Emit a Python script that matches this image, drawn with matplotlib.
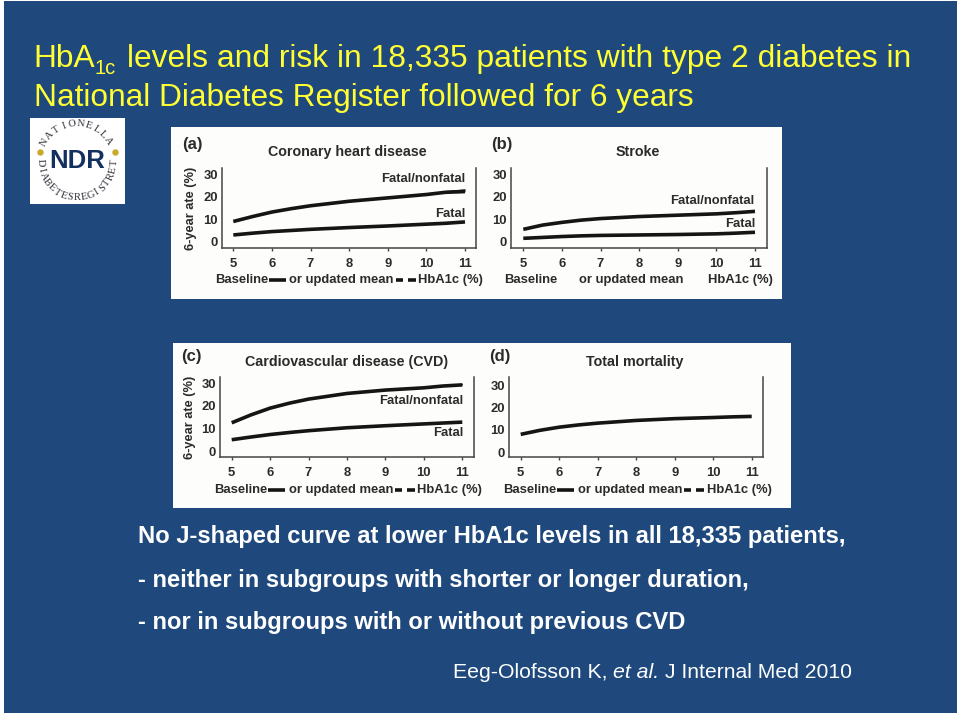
import numpy as np
import matplotlib
matplotlib.use("Agg")
import matplotlib.pyplot as plt
from matplotlib.patches import Rectangle

plt.rcParams['font.family'] = ['Liberation Sans', 'DejaVu Sans']

# Data
hba1c = [5, 5.5, 6, 6.5, 7, 8, 9, 10, 10.5, 11]
chd_all = [9, 11.2, 13.2, 14.7, 16, 18, 19.5, 21, 22, 22.3]
chd_all_hi = [9, 11.2, 13.2, 14.7, 16, 18, 19.5, 21.2, 22.8, 23.6]
chd_fatal = [3, 3.8, 4.5, 5, 5.5, 6.3, 7, 7.8, 8.2, 8.8]
stroke_all = [5.5, 7.4, 8.6, 9.6, 10.3, 11.2, 11.8, 12.4, 12.9, 13.5]
stroke_fatal = [1.5, 1.9, 2.3, 2.6, 2.8, 3, 3.2, 3.5, 3.8, 4.2]
cvd_all = [12.5, 16, 19, 21.2, 23, 25.5, 27, 28, 28.8, 29.3]
cvd_all_hi = [12.5, 16, 19, 21.2, 23, 25.5, 27, 28.2, 29.4, 30]
cvd_fatal = [5, 6.2, 7.3, 8.2, 9, 10.3, 11.2, 12, 12.4, 12.8]
mort_all = [8, 9.8, 11.2, 12.2, 13, 14.2, 15, 15.5, 15.8, 16]

x_ticks = [5, 6, 7, 8, 9, 10, 11]
y_ticks = [0, 10, 20, 30]

NAVY = '#1f497d'
INK = '#2b2b2b'
YELLOW = '#ffff33'
W, H = 960, 716

fig = plt.figure(figsize=(9.6, 7.16), dpi=100, facecolor='white')
bg = fig.add_axes([0, 0, 1, 1])
bg.set_xlim(0, W)
bg.set_ylim(H, 0)
bg.axis('off')

# slide and the two white picture strips
bg.add_patch(Rectangle((4, 1), 953, 712, fc=NAVY, ec='none'))
bg.add_patch(Rectangle((171, 127), 611, 172, fc='#fdfdfb', ec='none'))
bg.add_patch(Rectangle((173, 343), 618, 165, fc='#fdfdfb', ec='none'))

# heading
bg.text(33, 59, 'HbA', color=YELLOW, fontsize=22.8, va='center')
bg.text(95, 69, '1c', color=YELLOW, fontsize=14.5, va='center')
bg.text(127, 59, 'levels and risk in 18,335 patients with type 2 diabetes in',
        color=YELLOW, fontsize=22.85, va='center')
bg.text(34, 98, 'National Diabetes Register followed for 6 years',
        color=YELLOW, fontsize=22.8, va='center')

# body text
bg.text(138, 537, 'No J-shaped curve at lower HbA1c levels in all 18,335 patients,',
        color='white', fontsize=17.15, fontweight='bold', va='center')
bg.text(138, 580, '- neither in subgroups with shorter or longer duration,',
        color='white', fontsize=17.15, fontweight='bold', va='center')
bg.text(138, 623, '- nor in subgroups with or without previous CVD',
        color='white', fontsize=17.15, fontweight='bold', va='center')
bg.text(453, 672, 'Eeg-Olofsson K,', color='white', fontsize=15.3, va='center')
bg.text(613, 672, 'et al.', color='white', fontsize=15.3, style='italic', va='center')
bg.text(665, 672, 'J Internal Med 2010', color='white', fontsize=15.2, va='center')

# logo
bg.add_patch(Rectangle((30, 118), 95, 86, fc='white', ec='none'))
cx, cy = 77, 161
bg.text(cx, cy, 'NDR', color='#14305f', fontsize=18.5, fontweight='bold',
        ha='center', va='center')
bg.plot([40, 115], [152, 152], ls='none', marker='o', ms=3.6, color='#c9a92a')


def arc_text(s, r, a0, a1, top):
    for ch, a in zip(s, np.linspace(a0, a1, len(s))):
        t = np.radians(a)
        rot = a - 90 if top else a + 90
        bg.text(cx + r * np.cos(t), cy - r * np.sin(t), ch, fontsize=7.6,
                family=['Liberation Serif'], color='#30303a', rotation=rot,
                ha='center', va='center', rotation_mode='anchor')


arc_text('NATIONELLA', 37, 150, 32, True)
arc_text('DIABETESREGISTRET', 37, 183, 357, False)


def panel(box, x5, x11, y0, y30, series, title, title_x, title_y, letter, letter_x, letter_y,
          band=None):
    left, top, right, bottom = box
    ax = fig.add_axes([left / W, 1 - bottom / H, (right - left) / W, (bottom - top) / H])
    ax.patch.set_alpha(0)
    per_x = 6 / (x11 - x5)
    per_y = 30 / (y0 - y30)
    ax.set_xlim(5 + (left - x5) * per_x, 5 + (right - x5) * per_x)
    ax.set_ylim((y0 - bottom) * per_y, (y0 - top) * per_y)
    for values in series:
        ax.plot(hba1c, values, color='#151515', lw=2.6, solid_capstyle='butt')
    if band is not None:
        ax.fill_between(hba1c, series[0], band, color='#151515', lw=0)
    ax.spines['top'].set_visible(False)
    for name in ['left', 'bottom', 'right']:
        ax.spines[name].set_color('#444444')
        ax.spines[name].set_linewidth(1.1)
    ax.set_xticks(x_ticks)
    ax.set_yticks(y_ticks)
    ax.tick_params(axis='x', length=2.5, width=1, color='#444444', pad=5,
                   labelsize=9.4, labelcolor=INK)
    ax.tick_params(axis='y', length=0, pad=3, labelsize=9.4, labelcolor=INK)
    for lab in ax.get_xticklabels() + ax.get_yticklabels():
        lab.set_fontweight('bold')
    bg.text(title_x, title_y, title, fontsize=10.25, fontweight='bold', color=INK,
            ha='center', va='center')
    bg.text(letter_x, letter_y, letter, fontsize=12, fontweight='bold', color=INK,
            ha='left', va='center')
    return ax


def names(x, y, s):
    bg.text(x, y, s, fontsize=9.4, fontweight='bold', color=INK, ha='right', va='center')


def baseline(x0, dx1, dx2, y, keys=True):
    bg.text(x0, y, 'Baseline', fontsize=9.4, fontweight='bold', color=INK, va='center')
    bg.text(x0 + dx1, y, 'or updated mean', fontsize=9.4, fontweight='bold', color=INK, va='center')
    bg.text(x0 + dx2, y, 'HbA1c (%)', fontsize=9.4, fontweight='bold', color=INK, va='center')
    if keys:
        bg.plot([x0 + 54, x0 + 71], [y, y], color='#151515', lw=2.6, solid_capstyle='butt')
        bg.plot([x0 + 181, x0 + 188], [y, y], color='#151515', lw=2.6, solid_capstyle='butt')
        bg.plot([x0 + 193, x0 + 201], [y, y], color='#151515', lw=2.6, solid_capstyle='butt')


panel((222, 168, 476, 248), 233.3, 465, 241.7, 174.3, [chd_all, chd_fatal],
      'Coronary heart disease', 347, 152, '(a)', 182, 145, band=chd_all_hi)
panel((511, 168, 767, 248), 523.3, 755, 241.7, 174.3, [stroke_all, stroke_fatal],
      'Stroke', 638, 152, '(b)', 491, 145)
panel((220, 377, 474, 457), 231.7, 462.3, 451, 383.3, [cvd_all, cvd_fatal],
      'Cardiovascular disease (CVD)', 347, 362, '(c)', 181, 356, band=cvd_all_hi)
panel((509, 377, 763, 457), 520.7, 751.7, 452.3, 385, [mort_all],
      'Total mortality', 635, 362, '(d)', 489, 356)

names(465, 179, 'Fatal/nonfatal')
names(465, 214, 'Fatal')
names(754, 201, 'Fatal/nonfatal')
names(755, 224, 'Fatal')
names(463, 401, 'Fatal/nonfatal')
names(463, 433, 'Fatal')

baseline(215, 74, 203, 280)
baseline(504, 75, 204, 280, keys=False)
baseline(214, 75, 203, 490)
baseline(503, 75, 204, 490)

bg.text(191, 208, '6-year ate (%)', fontsize=9.2, fontweight='bold', color=INK,
        rotation=90, ha='center', va='center')
bg.text(190, 417, '6-year ate (%)', fontsize=9.2, fontweight='bold', color=INK,
        rotation=90, ha='center', va='center')

fig.savefig('out.png', dpi=100)
